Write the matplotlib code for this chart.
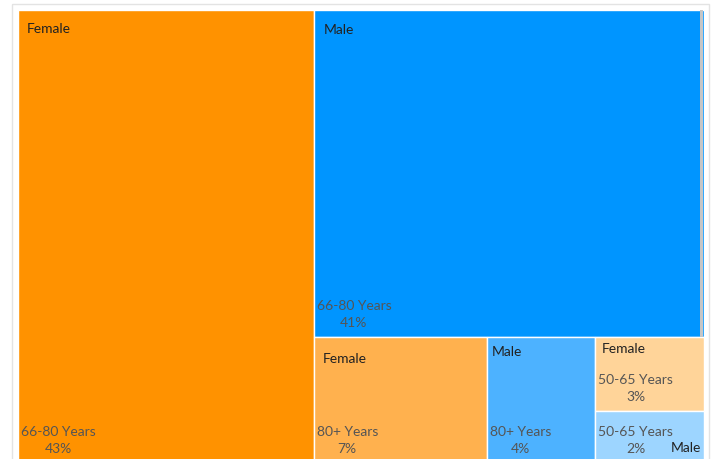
import matplotlib.pyplot as plt
from matplotlib.patches import Rectangle

plt.rcParams['font.family'] = ['Lato', 'DejaVu Sans']

# Data: share of people by gender and age group
genders = ['Female', 'Male', 'Female', 'Male', 'Female', 'Male']
ages = ['66-80 Years', '66-80 Years', '80+ Years', '80+ Years',
        '50-65 Years', '50-65 Years']
values = [43.0, 41.0, 7.0, 4.4, 2.6, 1.8]
colors = ['#FF9200', '#0095FF', '#FFB14E', '#4DB2FF', '#FFD499', '#9DD5FF']

# Treemap area in pixels
X0, Y0, W, H = 18, 10, 686, 453

total = sum(values)

# squarified layout: left column, top strip, bottom row with a small stacked column
w0 = values[0] / total * W
rest = total - values[0]
h1 = values[1] / rest * H
bot = sum(values[2:])
rw = W - w0
bh = H - h1
w2 = values[2] / bot * rw
w3 = values[3] / bot * rw
w4 = rw - w2 - w3
h4 = values[4] / (values[4] + values[5]) * bh

rects = [
    (X0, Y0, w0, H),
    (X0 + w0, Y0, rw, h1),
    (X0 + w0, Y0 + h1, w2, bh),
    (X0 + w0 + w2, Y0 + h1, w3, bh),
    (X0 + w0 + w2 + w3, Y0 + h1, w4, h4),
    (X0 + w0 + w2 + w3, Y0 + h1 + h4, w4, bh - h4),
]

# offsets of the gender label inside each box
name_off = [(9, 19), (10, 20), (9, 22), (5, 15), (6, 12), (None, None)]

fig = plt.figure(figsize=(7.11, 4.59), dpi=100)
ax = fig.add_axes([0, 0, 1, 1])
ax.set_xlim(0, 711)
ax.set_ylim(459, 0)
ax.axis('off')

# light frame around the chart
ax.add_patch(Rectangle((12, 4), 697, 470, fill=False, edgecolor='#E3E3E3', lw=1))

for i, (x, y, w, h) in enumerate(rects):
    ax.add_patch(Rectangle((x, y), w, h, facecolor=colors[i],
                           edgecolor='white', lw=1))
    pct = round(values[i] / total * 100)
    ax.text(x + 3, y + h - 8, f'{ages[i]}\n{pct}%', ha='left', va='bottom',
            multialignment='center', fontsize=10, color='#555555',
            linespacing=1.5)
    dx, dy = name_off[i]
    if dx is None:
        ax.text(x + w - 3, y + h - 15, genders[i], ha='right', va='center',
                fontsize=10, color='#222222')
    else:
        ax.text(x + dx, y + dy, genders[i], ha='left', va='center',
                fontsize=10, color='#222222')

# scrollbar-like shade on the right of the big male box
x, y, w, h = rects[1]
ax.add_patch(Rectangle((x + w - 4, y), 3, h, facecolor='#C6C6C6', lw=0))

fig.savefig('out.png', dpi=100)
